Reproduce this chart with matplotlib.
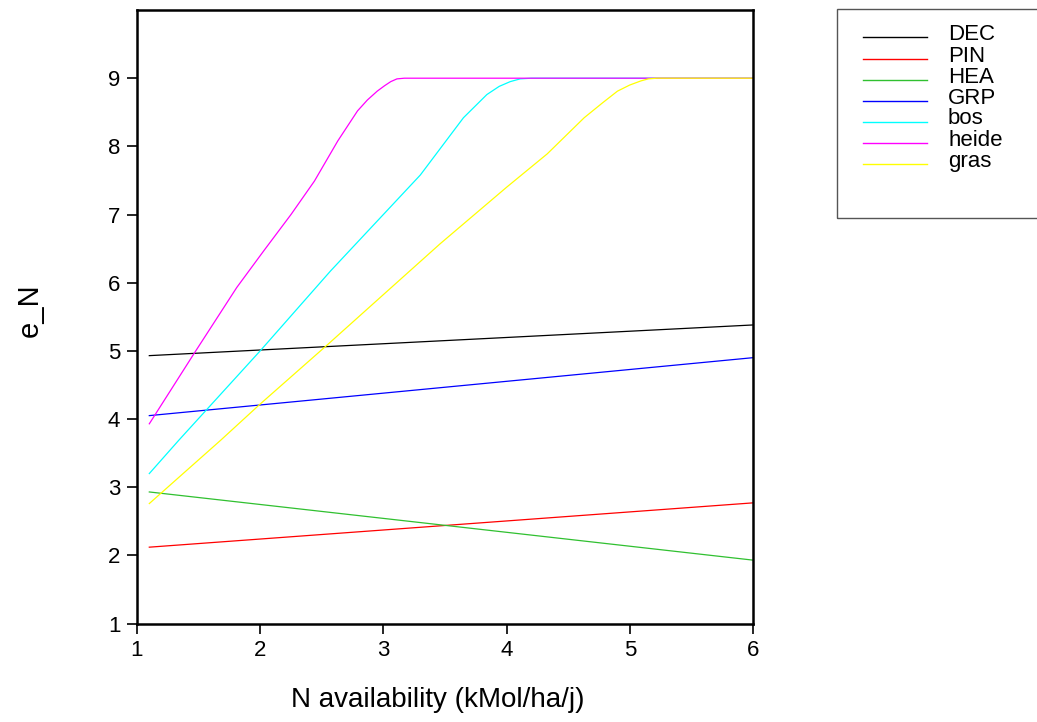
import matplotlib
matplotlib.use("Agg")
import matplotlib.pyplot as plt
from matplotlib.lines import Line2D
from matplotlib.patches import Rectangle

# straight-line responses (start and end of the N range)
lin_x = [1.1, 6.0]
dec_y = [4.93, 5.38]
pin_y = [2.12, 2.77]
hea_y = [2.93, 1.93]
grp_y = [4.05, 4.90]

# saturating responses, capped at 9
bos_x = [1.1, 1.34, 2.0, 2.57, 3.30, 3.65, 3.84, 3.94, 4.03, 4.11, 4.2, 6.0]
bos_y = [3.2, 3.69, 5.0, 6.17, 7.58, 8.42, 8.76, 8.88, 8.95, 8.99, 9.0, 9.0]

heide_x = [1.1, 1.47, 1.81, 2.03, 2.25, 2.44, 2.63, 2.79, 2.87, 2.95, 3.01,
           3.06, 3.11, 3.17, 6.0]
heide_y = [3.93, 4.98, 5.93, 6.47, 7.0, 7.49, 8.08, 8.52, 8.68, 8.81, 8.89,
           8.95, 8.99, 9.0, 9.0]

gras_x = [1.1, 1.68, 2.0, 2.54, 3.46, 4.0, 4.33, 4.63, 4.78, 4.90, 5.0, 5.09,
          5.15, 5.22, 6.0]
gras_y = [2.76, 3.69, 4.22, 5.08, 6.57, 7.40, 7.89, 8.42, 8.64, 8.81, 8.90, 8.96,
          8.99, 9.0, 9.0]

labels = ["DEC", "PIN", "HEA", "GRP", "bos", "heide", "gras"]
colors = ["#000000", "#ff0000", "#30c030", "#0000ff", "#00ffff", "#ff00ff", "#ffff00"]

x_ticks = [1, 2, 3, 4, 5, 6]
y_ticks = [1, 2, 3, 4, 5, 6, 7, 8, 9]

plt.rcParams["font.family"] = ["Liberation Sans", "DejaVu Sans"]

fig = plt.figure(figsize=(10.37, 7.22), dpi=100)
ax = fig.add_axes([0.1321, 0.1364, 0.594, 0.8497])

series = [
    (lin_x, dec_y), (lin_x, pin_y), (lin_x, hea_y), (lin_x, grp_y),
    (bos_x, bos_y), (heide_x, heide_y), (gras_x, gras_y),
]
for (xs, ys), c in zip(series, colors):
    ax.plot(xs, ys, color=c, lw=0.9)

ax.set_xlim(1, 6)
ax.set_ylim(1, 10)
ax.set_xticks(x_ticks)
ax.set_yticks(y_ticks)
ax.tick_params(direction="out", length=7, width=1.2, labelsize=16, pad=5,
               top=False, right=False)
for sp in ax.spines.values():
    sp.set_linewidth(1.8)

fig.text(0.4224, 0.030, "N availability (kMol/ha/j)", fontsize=20,
         ha="center", va="center")
fig.text(0.029, 0.571, "e_N", fontsize=21, rotation=90,
         ha="center", va="center")

# legend box, drawn in figure pixels
W, H = 1037, 722
fig.add_artist(Rectangle((837 / W, 1 - 218 / H), 300 / W, 209 / H,
                         transform=fig.transFigure, fill=False,
                         edgecolor="#555555", lw=1.0))
row_y = [37, 59, 80, 101, 122, 143, 164]
for lab, c, py in zip(labels, colors, row_y):
    fy = 1 - py / H
    fig.add_artist(Line2D([863 / W, 927 / W], [fy, fy], color=c, lw=1.0,
                          transform=fig.transFigure))
    fig.text(948 / W, fy + 3 / H, lab, fontsize=16,
             ha="left", va="center")

fig.savefig("out.png", dpi=100)
